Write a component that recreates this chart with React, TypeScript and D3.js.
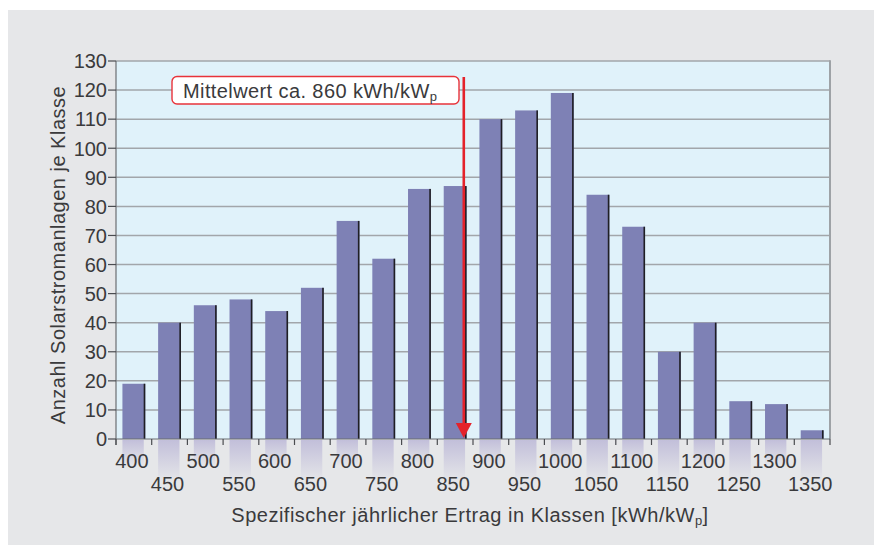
import React, { useRef, useEffect } from "react";
import * as d3 from "d3";

// Ertragsklassen (kWh/kWp) and number of installations per class
const classes = [
  400, 450, 500, 550, 600, 650, 700, 750, 800, 850, 900, 950, 1000, 1050,
  1100, 1150, 1200, 1250, 1300, 1350,
];
const counts = [
  19, 40, 46, 48, 44, 52, 75, 62, 86, 87, 110, 113, 119, 84, 73, 30, 40, 13,
  12, 3,
];
const yTicks = [0, 10, 20, 30, 40, 50, 60, 70, 80, 90, 100, 110, 120, 130];
const meanValue = 860;

const FONT = "'Liberation Sans', Arial, Helvetica, sans-serif";

const SolarChart = () => {
  const svgRef = useRef<SVGSVGElement | null>(null);

  useEffect(() => {
    const svg = d3.select(svgRef.current);
    svg.selectAll("*").remove();

    const margin = { top: 61, right: 44, bottom: 106, left: 116 };
    const width = 874;
    const height = 545;
    const x0 = margin.left;
    const x1 = width - margin.right;
    const y0 = height - margin.bottom;
    const y1 = margin.top;

    const xScale = d3
      .scaleBand<number>()
      .domain(classes)
      .range([x0, x1])
      .paddingInner(0.36)
      .paddingOuter(0.18);
    const step = xScale.step();
    const bw = xScale.bandwidth();

    const yScale = d3.scaleLinear().domain([0, 130]).range([y0, y1]);

    const xMean = d3
      .scaleLinear()
      .domain([classes[0], classes[classes.length - 1]])
      .range([
        xScale(classes[0])! + bw / 2,
        xScale(classes[classes.length - 1])! + bw / 2,
      ]);

    const defs = svg.append("defs");
    const grad = defs
      .append("linearGradient")
      .attr("id", "shade")
      .attr("x1", 0)
      .attr("y1", 0)
      .attr("x2", 0)
      .attr("y2", 1);
    grad.append("stop").attr("offset", "0%").attr("stop-color", "#c2bfda");
    grad
      .append("stop")
      .attr("offset", "100%")
      .attr("stop-color", "#c2bfda")
      .attr("stop-opacity", 0);

    // outer background
    svg
      .append("rect")
      .attr("x", 8)
      .attr("y", 10)
      .attr("width", width - 8)
      .attr("height", height - 10)
      .attr("fill", "#e6e7e9");

    // plot background
    svg
      .append("rect")
      .attr("x", x0)
      .attr("y", y1)
      .attr("width", x1 - x0)
      .attr("height", y0 - y1)
      .attr("fill", "#e0f2fa");

    // shading under bars (behind labels)
    svg
      .append("g")
      .selectAll("rect")
      .data(classes)
      .enter()
      .append("rect")
      .attr("x", (d) => xScale(d)!)
      .attr("y", y0 + 1)
      .attr("width", bw - 1.5)
      .attr("height", (d, i) => (i % 2 === 0 ? 26 : 42))
      .attr("fill", "url(#shade)");

    // grid lines
    svg
      .append("g")
      .selectAll("line")
      .data(yTicks.filter((t) => t > 0))
      .enter()
      .append("line")
      .attr("x1", x0)
      .attr("x2", x1)
      .attr("y1", (d) => yScale(d))
      .attr("y2", (d) => yScale(d))
      .attr("stroke", "#a2a6aa")
      .attr("stroke-width", 1.5);

    // right border
    svg
      .append("line")
      .attr("x1", x1)
      .attr("x2", x1)
      .attr("y1", y1 - 0.75)
      .attr("y2", y0)
      .attr("stroke", "#9ea2a6")
      .attr("stroke-width", 2);

    // bars
    const bars = svg
      .append("g")
      .selectAll("g")
      .data(classes)
      .enter()
      .append("g");
    bars
      .append("rect")
      .attr("x", (d) => xScale(d)!)
      .attr("y", (d, i) => yScale(counts[i]))
      .attr("width", bw)
      .attr("height", (d, i) => y0 - yScale(counts[i]))
      .attr("fill", "#7e81b5");
    bars
      .append("rect")
      .attr("x", (d) => xScale(d)! + bw - 1.6)
      .attr("y", (d, i) => yScale(counts[i]))
      .attr("width", 1.6)
      .attr("height", (d, i) => y0 - yScale(counts[i]))
      .attr("fill", "#1f1f24");

    // baseline and y axis
    svg
      .append("line")
      .attr("x1", x0)
      .attr("x2", x1)
      .attr("y1", y0)
      .attr("y2", y0)
      .attr("stroke", "#6b6e72")
      .attr("stroke-width", 1.2);
    svg
      .append("line")
      .attr("x1", x0)
      .attr("x2", x0)
      .attr("y1", y1)
      .attr("y2", y0 + 6)
      .attr("stroke", "#6b6e72")
      .attr("stroke-width", 1.2);

    // y ticks + labels
    const yt = svg.append("g").selectAll("g").data(yTicks).enter().append("g");
    yt.append("line")
      .attr("x1", x0 - 8)
      .attr("x2", x0)
      .attr("y1", (d) => yScale(d))
      .attr("y2", (d) => yScale(d))
      .attr("stroke", "#4a4c50")
      .attr("stroke-width", 1.2);
    yt.append("text")
      .attr("x", x0 - 9)
      .attr("y", (d) => yScale(d) + 7.3)
      .attr("text-anchor", "end")
      .attr("font-family", FONT)
      .attr("font-size", 20)
      .attr("fill", "#3a3a3c")
      .text((d) => d);

    // x ticks at class boundaries
    const bounds = classes.map((d) => xScale(d)! - (step - bw) / 2);
    bounds.push(x1);
    svg
      .append("g")
      .selectAll("line")
      .data(bounds)
      .enter()
      .append("line")
      .attr("x1", (d) => d)
      .attr("x2", (d) => d)
      .attr("y1", y0)
      .attr("y2", y0 + 6)
      .attr("stroke", "#4a4c50")
      .attr("stroke-width", 1.2);

    // x labels, staggered in two rows
    svg
      .append("g")
      .selectAll("text")
      .data(classes)
      .enter()
      .append("text")
      .attr("x", (d) => xScale(d)! + bw / 2 - 2)
      .attr("y", (d, i) => (i % 2 === 0 ? y0 + 29 : y0 + 52))
      .attr("text-anchor", "middle")
      .attr("font-family", FONT)
      .attr("font-size", 20)
      .attr("fill", "#3a3a3c")
      .text((d) => d);

    // axis titles
    const xt = svg
      .append("text")
      .attr("x", (x0 + x1) / 2 - 3)
      .attr("y", 522)
      .attr("text-anchor", "middle")
      .attr("font-family", FONT)
      .attr("font-size", 20)
      .attr("letter-spacing", 0.5)
      .attr("fill", "#3a3a3c");
    xt.append("tspan").text("Spezifischer jährlicher Ertrag in Klassen [kWh/kW");
    xt.append("tspan").attr("font-size", 13).attr("dy", 3).text("p");
    xt.append("tspan").attr("dy", -3).text("]");

    svg
      .append("text")
      .attr("transform", `translate(65, ${(y0 + y1) / 2 + 5}) rotate(-90)`)
      .attr("text-anchor", "middle")
      .attr("font-family", FONT)
      .attr("font-size", 20)
      .attr("letter-spacing", 0.5)
      .attr("fill", "#3a3a3c")
      .text("Anzahl Solarstromanlagen je Klasse");

    // mean marker
    const mx = xMean(meanValue) + 1.5;
    svg
      .append("line")
      .attr("x1", mx)
      .attr("x2", mx)
      .attr("y1", 77)
      .attr("y2", y0 - 14)
      .attr("stroke", "#e4222b")
      .attr("stroke-width", 2.6);
    svg
      .append("path")
      .attr(
        "d",
        `M${mx - 8},${y0 - 16} L${mx + 8},${y0 - 16} L${mx},${y0 - 1} Z`
      )
      .attr("fill", "#e4222b");

    svg
      .append("rect")
      .attr("x", 172)
      .attr("y", 76.5)
      .attr("width", 287)
      .attr("height", 27.5)
      .attr("rx", 5)
      .attr("fill", "#ffffff")
      .attr("stroke", "#e8333a")
      .attr("stroke-width", 1.4);
    const mt = svg
      .append("text")
      .attr("x", 183)
      .attr("y", 97.5)
      .attr("font-family", FONT)
      .attr("font-size", 20)
      .attr("letter-spacing", 0.4)
      .attr("fill", "#3a3a3c");
    mt.append("tspan").text("Mittelwert ca. 860 kWh/kW");
    mt.append("tspan").attr("font-size", 13).attr("dy", 3).text("p");
  }, []);

  return (
    <svg
      ref={svgRef}
      width="874"
      height="545"
      style={{ position: "absolute", left: 0, top: 0, display: "block" }}
    />
  );
};

export default function App() {
  return <SolarChart />;
}
